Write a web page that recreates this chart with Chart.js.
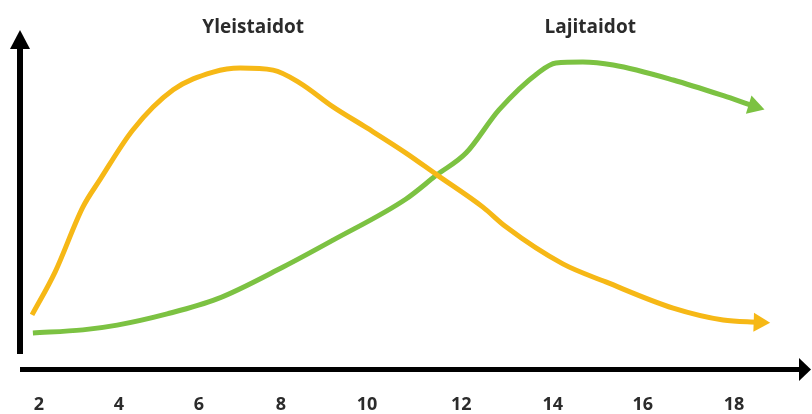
<!DOCTYPE html>
<html>
<head>
<meta charset="utf-8">
<script src="https://cdn.jsdelivr.net/npm/chart.js@4/dist/chart.umd.min.js"></script>
<style>
  body { margin: 0; background: #fff; }
  canvas { display: block; }
</style>
</head>
<body>
<canvas id="c" width="812" height="414"></canvas>
<script>
// age axis as drawn (tick spacing in the picture is not quite even)
const TICK_LABELS = ['2', '4', '6', '8', '10', '12', '14', '16', '18'];
const TICK_POS = [2, 3.84, 5.68, 7.57, 9.55, 11.72, 13.83, 15.9, 18];

const yleisX = [1.84, 2.37, 3.01, 3.40, 4.16, 5.09, 6.01, 6.63, 7.39, 8.01, 8.77, 9.55, 10.45, 11.16, 12.22, 12.75, 14.06, 15.05, 16.60, 17.75, 18.58];
const yleisY = [16.2, 28.8, 47.9, 55.9, 70.6, 82.4, 87.6, 88.8, 88.2, 84.4, 77.4, 71.2, 63.8, 57.4, 47.9, 42.1, 31.2, 25.9, 18.2, 14.7, 14.0];

const lajiX = [1.86, 3.01, 3.80, 4.95, 6.10, 7.62, 8.77, 10.45, 11.16, 11.83, 12.59, 13.51, 13.90, 14.52, 15.22, 16.60, 17.84, 18.46];
const lajiY = [10.9, 11.8, 13.2, 16.5, 20.9, 30.3, 38.2, 50.3, 57.4, 63.8, 76.5, 87.6, 90.3, 90.6, 89.7, 85.3, 80.3, 77.6];

const SERIES = ['Yleistaidot', 'Lajitaidot'];
const LABEL_AT = [[6.93, 100.6], [14.69, 100.6]];

const YELLOW = '#f6b816';
const GREEN = '#7cc242';

const pts = (xs, ys) => xs.map((x, i) => ({ x, y: ys[i] }));

const arrowAxes = {
  id: 'arrowAxes',
  afterDraw(chart) {
    const { ctx, chartArea: a } = chart;
    ctx.save();
    ctx.fillStyle = '#000';
    ctx.strokeStyle = '#000';
    ctx.lineWidth = 6;
    // y axis
    ctx.beginPath();
    ctx.moveTo(a.left, a.bottom - 16);
    ctx.lineTo(a.left, a.top + 16);
    ctx.stroke();
    ctx.beginPath();
    ctx.moveTo(a.left, a.top);
    ctx.lineTo(a.left - 10, a.top + 19);
    ctx.lineTo(a.left + 10, a.top + 19);
    ctx.closePath();
    ctx.fill();
    // x axis
    ctx.lineWidth = 5;
    ctx.beginPath();
    ctx.moveTo(a.left, a.bottom - 0.5);
    ctx.lineTo(a.right - 8, a.bottom - 0.5);
    ctx.stroke();
    ctx.beginPath();
    ctx.moveTo(a.right + 1, a.bottom - 0.5);
    ctx.lineTo(a.right - 11, a.bottom - 12);
    ctx.lineTo(a.right - 11, a.bottom + 11);
    ctx.closePath();
    ctx.fill();
    ctx.restore();
  }
};

const seriesLabels = {
  id: 'seriesLabels',
  afterDraw(chart) {
    const { ctx, scales: { x, y } } = chart;
    ctx.save();
    ctx.font = 'bold 19px "Open Sans", sans-serif';
    ctx.fillStyle = '#2b2b2b';
    ctx.textAlign = 'center';
    ctx.textBaseline = 'middle';
    SERIES.forEach((s, i) => {
      ctx.fillText(s, x.getPixelForValue(LABEL_AT[i][0]), y.getPixelForValue(LABEL_AT[i][1]));
    });
    ctx.restore();
  }
};

function lineSet(label, data, color, rot) {
  return {
    label,
    data,
    borderColor: color,
    backgroundColor: color,
    borderWidth: 5,
    cubicInterpolationMode: 'monotone',
    pointStyle: 'triangle',
    pointRotation: rot,
    pointBorderWidth: 0,
    pointRadius: ctx => (ctx.dataIndex === data.length - 1 ? 11 : 0),
    pointHoverRadius: 0,
    clip: false,
  };
}

new Chart(document.getElementById('c'), {
  type: 'line',
  data: {
    datasets: [
      lineSet(SERIES[0], pts(yleisX, yleisY), YELLOW, 92),
      lineSet(SERIES[1], pts(lajiX, lajiY), GREEN, 107),
    ],
  },
  options: {
    responsive: false,
    animation: false,
    layout: { autoPadding: false, padding: { left: 20, right: 2, top: 30, bottom: 0 } },
    plugins: { legend: { display: false }, tooltip: { enabled: false } },
    scales: {
      x: {
        type: 'linear',
        min: 1.563,
        max: 19.75,
        grid: { display: false, drawTicks: false },
        border: { display: false },
        afterBuildTicks: axis => { axis.ticks = TICK_POS.map(v => ({ value: v })); },
        afterFit: axis => {
          axis.height = 44;
          axis.paddingLeft = 0;
          axis.paddingRight = 0;
        },
        ticks: {
          autoSkip: false,
          maxRotation: 0,
          padding: 26,
          color: '#2b2b2b',
          font: { family: '"Open Sans", sans-serif', size: 18, weight: 'bold', lineHeight: 1 },
          callback: (v, i) => TICK_LABELS[i],
        },
      },
      y: { display: false, min: 0, max: 100 },
    },
  },
  plugins: [arrowAxes, seriesLabels],
});
</script>
</body>
</html>
